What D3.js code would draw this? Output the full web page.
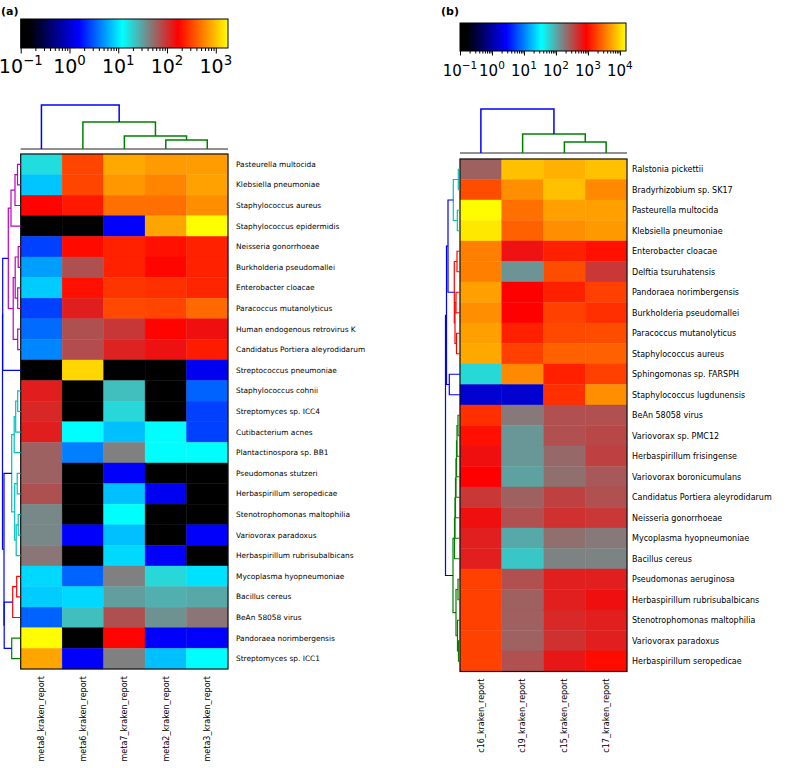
<!DOCTYPE html>
<html>
<head>
<meta charset="utf-8">
<script src="https://cdn.jsdelivr.net/npm/d3@7"></script>
<style>
body { margin: 0; background: #fff; }
svg { display: block; }
text { font-family: "DejaVu Sans", sans-serif; fill: #000; }
</style>
</head>
<body>
<script>
// ---------- data, panel (a) ----------
var colsA = ['meta8_kraken_report', 'meta6_kraken_report', 'meta7_kraken_report', 'meta2_kraken_report', 'meta3_kraken_report'];
var rowsA = ['Pasteurella multocida', 'Klebsiella pneumoniae', 'Staphylococcus aureus', 'Staphylococcus epidermidis',
  'Neisseria gonorrhoeae', 'Burkholderia pseudomallei', 'Enterobacter cloacae', 'Paracoccus mutanolyticus',
  'Human endogenous retrovirus K', 'Candidatus Portiera aleyrodidarum', 'Streptococcus pneumoniae',
  'Staphylococcus cohnii', 'Streptomyces sp. ICC4', 'Cutibacterium acnes', 'Plantactinospora sp. BB1',
  'Pseudomonas stutzeri', 'Herbaspirillum seropedicae', 'Stenotrophomonas maltophilia', 'Variovorax paradoxus',
  'Herbaspirillum rubrisubalbicans', 'Mycoplasma hyopneumoniae', 'Bacillus cereus', 'BeAn 58058 virus',
  'Pandoraea norimbergensis', 'Streptomyces sp. ICC1'];
// read counts (0 = absent, drawn black)
var valuesA = [
  [17, 320, 800, 700, 720],
  [7.6, 320, 690, 580, 750],
  [175, 214, 475, 475, 635],
  [0, 0, 1.5, 780, 1750],
  [2.6, 185, 230, 197, 230],
  [5.6, 72, 230, 178, 230],
  [8, 197, 276, 265, 240],
  [2.6, 123, 330, 320, 450],
  [3.7, 72, 94, 175, 145],
  [4.6, 75, 118, 142, 217],
  [0, 1230, 0, 0, 1.35],
  [123, 0, 23, 0, 3.4],
  [112, 0, 18, 0, 2.6],
  [123, 12, 7.3, 12, 2.6],
  [60, 4.3, 43, 12, 12],
  [60, 0, 1.5, 0, 0],
  [72, 0, 7.3, 1.35, 0],
  [40, 0, 12, 0, 0],
  [40, 1.5, 7.3, 0, 1.5],
  [48, 0, 8.9, 1.5, 0],
  [8.9, 3.4, 43, 18, 9.4],
  [8, 8.9, 32, 27, 29],
  [3.4, 23, 72, 36, 48],
  [1750, 0, 175, 1.5, 1.5],
  [780, 1.5, 43, 7.3, 12]
];
// linkage rows [childA, childB, distance]; ids >= n are earlier merges
var linkRowsA = [
  [0, 1, 3.2], [25, 2, 5.7], [26, 3, 9.7], [4, 5, 2.5], [6, 7, 3], [28, 29, 5.5],
  [8, 9, 3], [30, 31, 7.5], [27, 32, 12.4], [33, 10, 18],
  [11, 12, 3], [35, 13, 5], [36, 14, 6.5], [15, 16, 3.5], [17, 18, 2.5], [39, 19, 4.5],
  [38, 40, 6], [37, 41, 9], [20, 21, 4], [43, 22, 8], [23, 24, 9],
  [44, 45, 16.5], [42, 46, 16.7], [34, 47, 18.2]
];
var linkColsA = [[3, 4, 9], [2, 5, 13], [1, 6, 27], [0, 7, 44]];
var cbTickA = [0.1, 1, 10, 100, 1000];
var vmaxA = 1780;

// ---------- data, panel (b) ----------
var colsB = ['c16_kraken_report', 'c19_kraken_report', 'c15_kraken_report', 'c17_kraken_report'];
var rowsB = ['Ralstonia pickettii', 'Bradyrhizobium sp. SK17', 'Pasteurella multocida', 'Klebsiella pneumoniae',
  'Enterobacter cloacae', 'Delftia tsuruhatensis', 'Pandoraea norimbergensis', 'Burkholderia pseudomallei',
  'Paracoccus mutanolyticus', 'Staphylococcus aureus', 'Sphingomonas sp. FARSPH', 'Staphylococcus lugdunensis',
  'BeAn 58058 virus', 'Variovorax sp. PMC12', 'Herbaspirillum frisingense', 'Variovorax boronicumulans',
  'Candidatus Portiera aleyrodidarum', 'Neisseria gonorrhoeae', 'Mycoplasma hyopneumoniae', 'Bacillus cereus',
  'Pseudomonas aeruginosa', 'Herbaspirillum rubrisubalbicans', 'Stenotrophomonas maltophilia',
  'Variovorax paradoxus', 'Herbaspirillum seropedicae'];
var valuesB = [
  [250, 7600, 6400, 7600],
  [2100, 4400, 7600, 4100],
  [15000, 3100, 5300, 5300],
  [12000, 2600, 4400, 4900],
  [3700, 700, 1260, 1050],
  [3700, 130, 2100, 430],
  [5300, 875, 1260, 1800],
  [4400, 875, 1800, 1500],
  [5300, 1260, 2000, 2100],
  [5800, 1800, 2600, 2600],
  [56, 4100, 1260, 1800],
  [1.7, 1.7, 1500, 4400],
  [1500, 180, 310, 310],
  [1050, 125, 310, 345],
  [725, 125, 225, 380],
  [875, 110, 205, 280],
  [430, 250, 380, 310],
  [725, 310, 470, 430],
  [590, 100, 205, 180],
  [590, 70, 160, 160],
  [1800, 310, 590, 590],
  [1800, 250, 590, 725],
  [1800, 250, 525, 590],
  [1850, 245, 470, 590],
  [1850, 310, 650, 1000]
];
var linkRowsB = [
  [0, 1, 1.7], [2, 3, 2.7], [25, 26, 6.7], [4, 5, 3], [6, 7, 4], [8, 9, 3.5], [29, 30, 5],
  [28, 31, 5.7], [27, 32, 12], [10, 11, 10.7], [33, 34, 13.5],
  [12, 13, 2], [36, 14, 3], [37, 15, 3.5], [38, 16, 4], [39, 17, 4.5], [40, 18, 5], [41, 19, 5.5],
  [23, 24, 1.5], [22, 43, 2.5], [20, 21, 2], [45, 44, 4], [42, 46, 7], [35, 47, 14.5]
];
var linkColsB = [[2, 3, 11], [1, 4, 19], [0, 5, 44]];
var cbTickB = [0.1, 1, 10, 100, 1000, 10000];
var vmaxB = 15500;

// ---------- colormap ----------
var cmapStops = [0, 0.04, 0.28, 0.49, 0.62, 0.76, 1];
var cmapColors = ['#000000', '#000000', '#0000ff', '#00ffff', '#808080', '#ff0000', '#ffff00'];
var cmap = d3.scaleLinear().domain(cmapStops).range(cmapColors).interpolate(d3.interpolateRgb).clamp(true);

var svg = d3.select('body').append('svg').attr('width', 787).attr('height', 768);
var defs = svg.append('defs');

function supText(sel, v, fs) {
  var e = Math.round(Math.log10(v));
  sel.append('tspan').text('10');
  sel.append('tspan').attr('dy', -fs * 0.42).style('font-size', (fs * 0.7) + 'px')
    .text(e < 0 ? '\u2212' + (-e) : '' + e);
}

function colorbar(id, x0, x1, y0, y1, vmax, labels, fs, base, major, minor) {
  var s = d3.scaleLog().domain([0.1, vmax]).range([x0, x1]);
  var grad = defs.append('linearGradient').attr('id', id);
  cmapStops.forEach(function(t, i) {
    grad.append('stop').attr('offset', t).attr('stop-color', cmapColors[i]);
  });
  var g = svg.append('g');
  g.append('rect').attr('x', x0).attr('y', y0).attr('width', x1 - x0).attr('height', y1 - y0)
    .attr('fill', 'url(#' + id + ')').attr('stroke', '#000').attr('stroke-width', 1);
  var ticks = s.ticks().filter(function(v) { return v >= 0.1 && v <= vmax; });
  var ax = g.append('g').attr('transform', 'translate(0,' + y1 + ')')
    .call(d3.axisBottom(s).tickValues(ticks).tickFormat('').tickSizeOuter(0));
  ax.select('.domain').remove();
  ax.selectAll('.tick line').attr('stroke', '#000').attr('y2', function(v) {
    return labels.indexOf(v) >= 0 ? major : minor;
  });
  labels.forEach(function(v) {
    var t = g.append('text').attr('x', s(v)).attr('y', base).attr('text-anchor', 'middle')
      .style('font-size', fs + 'px');
    supText(t, v, fs);
  });
}

function dendro(links, n, coordOf, hScale, orient, threshold, palette, width) {
  var coord = [], height = [], color = {}, ci = 0;
  for (var i = 0; i < n; i++) { coord[i] = coordOf(i); height[i] = 0; }
  links.forEach(function(l, k) {
    coord[n + k] = (coord[l[0]] + coord[l[1]]) / 2;
    height[n + k] = l[2];
  });
  function assign(id, c) {
    if (id < n) return;
    var l = links[id - n];
    if (!c && l[2] <= threshold) c = palette[ci++ % palette.length];
    color[id] = c || '#0000ff';
    assign(l[0], c); assign(l[1], c);
  }
  assign(n + links.length - 1, null);
  var g = svg.append('g');
  links.forEach(function(l, k) {
    var a = l[0], b = l[1], h = hScale(l[2]);
    var pts = orient === 'top'
      ? [[coord[a], hScale(height[a])], [coord[a], h], [coord[b], h], [coord[b], hScale(height[b])]]
      : [[hScale(height[a]), coord[a]], [h, coord[a]], [h, coord[b]], [hScale(height[b]), coord[b]]];
    g.append('path').attr('d', d3.line()(pts)).attr('fill', 'none')
      .attr('stroke', color[n + k]).attr('stroke-width', width);
  });
}

function panel(p) {
  var x = d3.scaleBand().domain(p.cols).range([p.x0, p.x1]);
  var y = d3.scaleBand().domain(p.rows).range([p.y0, p.y1]);
  var norm = d3.scaleLog().domain([0.1, p.vmax]).range([0, 1]).clamp(true);
  var g = svg.append('g');
  p.values.forEach(function(row, i) {
    row.forEach(function(v, j) {
      var c = v > 0 ? cmap(norm(v)) : cmap(0);
      g.append('rect').attr('x', x(p.cols[j])).attr('y', y(p.rows[i]))
        .attr('width', x.bandwidth()).attr('height', y.bandwidth())
        .attr('fill', c).attr('stroke', c).attr('stroke-width', 0.4);
    });
  });
  g.append('rect').attr('x', p.x0).attr('y', p.y0).attr('width', p.x1 - p.x0).attr('height', p.y1 - p.y0)
    .attr('fill', 'none').attr('stroke', '#111').attr('stroke-width', 1.2);

  g.selectAll('text.row').data(p.rows).enter().append('text')
    .attr('x', p.x1 + p.rowGap).attr('y', function(d) { return y(d) + y.bandwidth() / 2; })
    .attr('dy', '0.35em').style('font-size', p.rowFs + 'px').text(function(d) { return d; });
  g.selectAll('text.col').data(p.cols).enter().append('text')
    .attr('transform', function(d) {
      return 'translate(' + (x(d) + x.bandwidth() / 2) + ',' + (p.y1 + 7) + ') rotate(-90)';
    })
    .attr('dy', '0.35em').attr('text-anchor', 'end').style('font-size', '8px').text(function(d) { return d; });

  // column dendrogram
  var maxC = p.linkCols[p.linkCols.length - 1][2];
  var hy = d3.scaleLinear().domain([0, maxC]).range([p.cBase, p.cTop]);
  svg.append('line').attr('x1', p.x0).attr('x2', p.x1).attr('y1', p.cBase).attr('y2', p.cBase)
    .attr('stroke', '#222').attr('stroke-width', 1);
  dendro(p.linkCols, p.cols.length, function(i) { return x(p.cols[i]) + x.bandwidth() / 2; },
    hy, 'top', p.cThr, p.cPal, 1.5);

  // row dendrogram
  var maxR = p.linkRows[p.linkRows.length - 1][2];
  var hx = d3.scaleLinear().domain([0, maxR]).range([p.x0, p.rLeft]);
  dendro(p.linkRows, p.rows.length, function(i) { return y(p.rows[i]) + y.bandwidth() / 2; },
    hx, 'left', p.rThr, p.rPal, 1.2);
}

panel({
  cols: colsA, rows: rowsA, values: valuesA, vmax: vmaxA,
  x0: 20.7, x1: 228, y0: 154, y1: 669, rowGap: 8, rowFs: 7.4,
  linkCols: linkColsA, cBase: 149, cTop: 105, cThr: 35, cPal: ['#008000'],
  linkRows: linkRowsA, rLeft: 2.5, rThr: 14, rPal: ['#bf00bf', '#00bfbf', '#ff0000', '#008000']
});
panel({
  cols: colsB, rows: rowsB, values: valuesB, vmax: vmaxB,
  x0: 460, x1: 627, y0: 159, y1: 671.5, rowGap: 5, rowFs: 8,
  linkCols: linkColsB, cBase: 153, cTop: 109, cThr: 30, cPal: ['#008000'],
  linkRows: linkRowsB, rLeft: 445.5, rThr: 9, rPal: ['#00bfbf', '#ff0000', '#008000']
});

colorbar('cbA', 20.7, 228, 19, 48, vmaxA, cbTickA, 19, 72.5, 5.5, 3);
colorbar('cbB', 460, 626, 23, 51, vmaxB, cbTickB, 15, 75.5, 4.5, 2.5);

svg.append('text').attr('x', 1).attr('y', 15).style('font-size', '11px').style('font-weight', 'bold').text('(a)');
svg.append('text').attr('x', 441).attr('y', 15).style('font-size', '11px').style('font-weight', 'bold').text('(b)');
</script>
</body>
</html>
